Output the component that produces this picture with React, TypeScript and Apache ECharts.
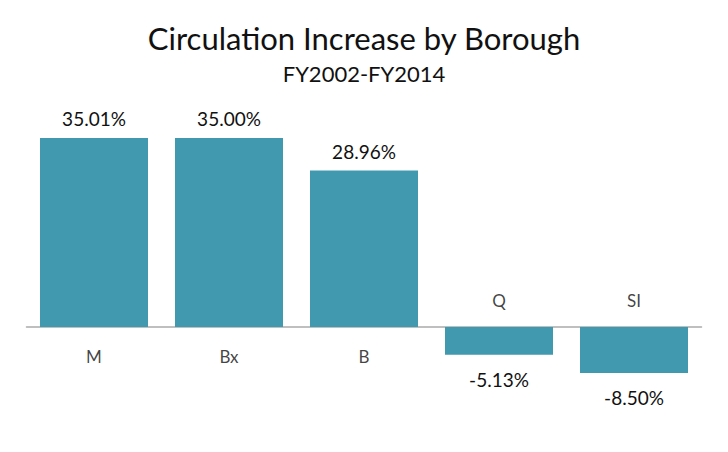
import React, { useEffect, useRef } from "react";
import * as echarts from "echarts";

const categories = ["M", "Bx", "B", "Q", "SI"];
const values = [35.01, 35.0, 28.96, -5.13, -8.5];

const FONT = "Lato, 'Noto Sans', sans-serif";

export default function App() {
  const ref = useRef<HTMLDivElement>(null);
  useEffect(() => {
    document.body.style.margin = "0";
    const chart = echarts.init(ref.current!, null, { renderer: "svg" });
    chart.setOption({
      animation: false,
      backgroundColor: "#ffffff",
      textStyle: { fontFamily: FONT },
      title: {
        text: "Circulation Increase by Borough",
        subtext: "FY2002-FY2014",
        left: "center",
        top: 17,
        itemGap: 9,
        textStyle: { fontFamily: FONT, fontSize: 31, fontWeight: "normal", color: "#111" },
        subtextStyle: { fontFamily: FONT, fontSize: 22, color: "#111" },
      },
      grid: { left: 26.5, right: 26.5, top: 111, bottom: 71 },
      xAxis: {
        type: "category",
        data: categories,
        axisLine: { onZero: true, lineStyle: { color: "#aaaaaa", width: 1.5 } },
        axisTick: { show: false },
        axisLabel: { show: false },
      },
      yAxis: {
        type: "value",
        min: -10,
        max: 40,
        show: false,
        splitLine: { show: false },
      },
      series: [
        {
          type: "bar",
          barCategoryGap: "20%",
          itemStyle: { color: "#4199b0" },
          label: {
            show: true,
            fontFamily: FONT,
            fontSize: 19,
            color: "#111",
            formatter: (p: any) => p.value.toFixed(2) + "%",
          },
          data: values.map((v) => ({
            value: v,
            label: { position: v >= 0 ? "top" : "bottom", distance: v >= 0 ? 10 : 15 },
          })),
        },
        {
          type: "scatter",
          symbolSize: 0,
          silent: true,
          data: categories.map((c, i) => ({
            value: [c, 0],
            label: {
              show: true,
              position: values[i] >= 0 ? "bottom" : "top",
              distance: values[i] >= 0 ? 21 : 18,
              formatter: c,
              fontFamily: FONT,
              fontSize: 17,
              color: "#111",
            },
          })),
        },
      ],
    });
    return () => chart.dispose();
  }, []);
  return <div ref={ref} style={{ width: 728, height: 452 }} />;
}
